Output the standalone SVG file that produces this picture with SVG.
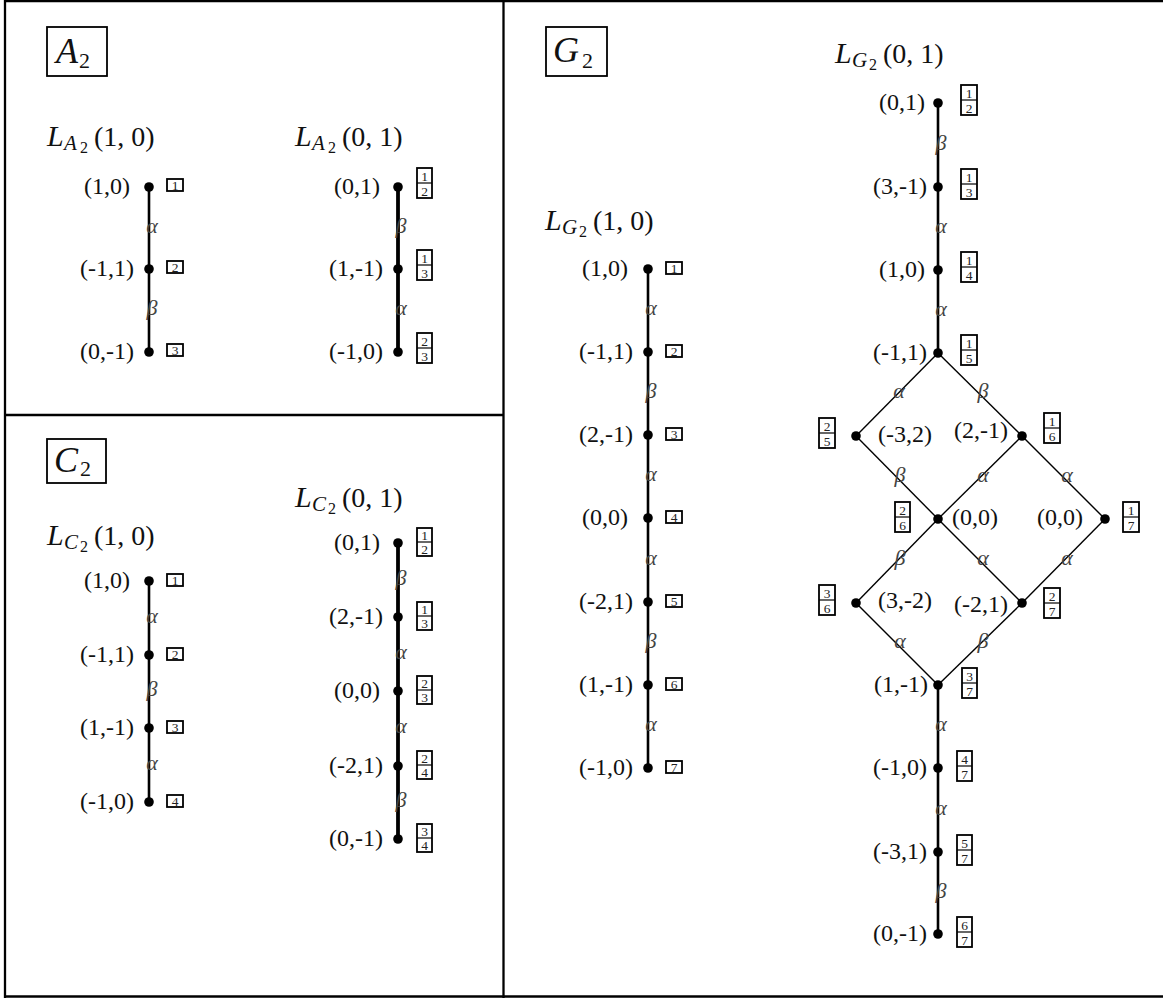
<svg xmlns="http://www.w3.org/2000/svg" width="1163" height="998" viewBox="0 0 1163 998">
<style>
text{font-family:"Liberation Serif","Times New Roman",serif;fill:#111}
.fr{stroke:#000;stroke-width:2.3;fill:none}
.tb{stroke:#000;stroke-width:1.8;fill:none}
.ln{stroke:#000;stroke-width:2.6}
.lb{stroke:#000;stroke-width:3.8}
.lt{stroke:#000;stroke-width:1.4}
.big{font-size:28px}
.it{font-style:italic}
.bl{font-size:30px;font-style:italic}
.s1{font-size:21px;font-style:italic}
.s2{font-size:16px}
.lbl{font-size:24px;text-anchor:middle}
.ls{font-size:24px;text-anchor:start}
.le{font-size:24px;text-anchor:end}
.el{font-size:22px;font-style:italic;fill:#444;text-anchor:middle}
.bx{fill:#fff;stroke:#000;stroke-width:1.8}
.bm{stroke:#000;stroke-width:1.2}
.bd{font-size:13.5px;text-anchor:middle;fill:#222}
</style>
<defs>
<circle id="dot" r="4.8" fill="#000"/>
</defs>
<g id="frame">
<line class="fr" x1="5" y1="0" x2="5" y2="998"/>
<line class="fr" x1="4" y1="1" x2="1163" y2="1"/>
<line class="fr" x1="4" y1="996.5" x2="1163" y2="996.5"/>
<line class="fr" x1="503.5" y1="0" x2="503.5" y2="998"/>
<line class="fr" x1="5" y1="415" x2="503.5" y2="415"/>
</g>
<g id="titles">
<g id="title-A2"><rect class="tb" x="47" y="27" width="60" height="49"/><text x="56" y="63" font-size="36" class="it">A</text><text x="79" y="68" font-size="22">2</text></g>
<g id="title-C2"><rect class="tb" x="47" y="439" width="59" height="44"/><text x="54" y="472" font-size="36" class="it">C</text><text x="80" y="476" font-size="22">2</text></g>
<g id="title-G2"><rect class="tb" x="546" y="27" width="61" height="49"/><text x="553" y="62" font-size="36" class="it">G</text><text x="582" y="68" font-size="22">2</text></g>
<g id="L-A2-10"><text class="big"><tspan class="bl" x="47" y="146">L</tspan><tspan class="s1" x="64" y="150">A</tspan><tspan class="s2" x="80" y="153">2</tspan><tspan x="94" y="146">(1, 0)</tspan></text></g>
<g id="L-A2-01"><text class="big"><tspan class="bl" x="295" y="146">L</tspan><tspan class="s1" x="312" y="150">A</tspan><tspan class="s2" x="328" y="153">2</tspan><tspan x="342" y="146">(0, 1)</tspan></text></g>
<g id="L-C2-10"><text class="big"><tspan class="bl" x="47" y="545">L</tspan><tspan class="s1" x="64" y="549">C</tspan><tspan class="s2" x="80" y="552">2</tspan><tspan x="94" y="545">(1, 0)</tspan></text></g>
<g id="L-C2-01"><text class="big"><tspan class="bl" x="295" y="507">L</tspan><tspan class="s1" x="312" y="511">C</tspan><tspan class="s2" x="328" y="514">2</tspan><tspan x="342" y="507">(0, 1)</tspan></text></g>
<g id="L-G2-10"><text class="big"><tspan class="bl" x="545" y="230">L</tspan><tspan class="s1" x="562" y="234">G</tspan><tspan class="s2" x="579" y="237">2</tspan><tspan x="593" y="230">(1, 0)</tspan></text></g>
<g id="L-G2-01"><text class="big"><tspan class="bl" x="835" y="63">L</tspan><tspan class="s1" x="852" y="67">G</tspan><tspan class="s2" x="869" y="70">2</tspan><tspan x="883" y="63">(0, 1)</tspan></text></g>
</g>
<g id="connectors">
<line class="ln" x1="149" y1="187" x2="149" y2="269"/><text class="el" x="152" y="233">α</text>
<line class="ln" x1="149" y1="269" x2="149" y2="352"/><text class="el" x="152" y="315">β</text>
<line class="lb" x1="398" y1="187" x2="398" y2="269"/><text class="el" x="401" y="233">β</text>
<line class="lb" x1="398" y1="269" x2="398" y2="352"/><text class="el" x="401" y="315">α</text>
<line class="ln" x1="149" y1="581" x2="149" y2="655"/><text class="el" x="152" y="623">α</text>
<line class="ln" x1="149" y1="655" x2="149" y2="728"/><text class="el" x="152" y="696">β</text>
<line class="ln" x1="149" y1="728" x2="149" y2="802"/><text class="el" x="152" y="770">α</text>
<line class="lb" x1="398" y1="543" x2="398" y2="617"/><text class="el" x="401" y="585">β</text>
<line class="lb" x1="398" y1="617" x2="398" y2="691"/><text class="el" x="401" y="659">α</text>
<line class="lb" x1="398" y1="691" x2="398" y2="766"/><text class="el" x="401" y="733">α</text>
<line class="lb" x1="398" y1="766" x2="398" y2="839"/><text class="el" x="401" y="807">β</text>
<line class="ln" x1="648" y1="269" x2="648" y2="352"/><text class="el" x="651" y="315">α</text>
<line class="ln" x1="648" y1="352" x2="648" y2="435"/><text class="el" x="651" y="398">β</text>
<line class="ln" x1="648" y1="435" x2="648" y2="518"/><text class="el" x="651" y="481">α</text>
<line class="ln" x1="648" y1="518" x2="648" y2="602"/><text class="el" x="651" y="565">α</text>
<line class="ln" x1="648" y1="602" x2="648" y2="685"/><text class="el" x="651" y="648">β</text>
<line class="ln" x1="648" y1="685" x2="648" y2="768"/><text class="el" x="651" y="731">α</text>
<line class="ln" x1="938" y1="103" x2="938" y2="187"/><text class="el" x="941" y="150">β</text>
<line class="ln" x1="938" y1="187" x2="938" y2="270"/><text class="el" x="941" y="233">α</text>
<line class="ln" x1="938" y1="270" x2="938" y2="353"/><text class="el" x="941" y="316">α</text>
<line class="lt" x1="938" y1="353" x2="856" y2="436"/><text class="el" x="899" y="398">α</text>
<line class="lt" x1="938" y1="353" x2="1022" y2="436"/><text class="el" x="983" y="398">β</text>
<line class="lt" x1="856" y1="436" x2="938" y2="519"/><text class="el" x="900" y="482">β</text>
<line class="lt" x1="1022" y1="436" x2="938" y2="519"/><text class="el" x="983" y="482">α</text>
<line class="lt" x1="1022" y1="436" x2="1105" y2="519"/><text class="el" x="1067" y="482">α</text>
<line class="lt" x1="938" y1="519" x2="856" y2="603"/><text class="el" x="900" y="565">β</text>
<line class="lt" x1="938" y1="519" x2="1022" y2="603"/><text class="el" x="983" y="565">α</text>
<line class="lt" x1="1105" y1="519" x2="1022" y2="603"/><text class="el" x="1067" y="565">α</text>
<line class="lt" x1="856" y1="603" x2="938" y2="685"/><text class="el" x="900" y="648">α</text>
<line class="lt" x1="1022" y1="603" x2="938" y2="685"/><text class="el" x="983" y="648">β</text>
<line class="ln" x1="938" y1="685" x2="938" y2="768"/><text class="el" x="941" y="731">α</text>
<line class="ln" x1="938" y1="768" x2="938" y2="852"/><text class="el" x="941" y="815">α</text>
<line class="ln" x1="938" y1="852" x2="938" y2="934"/><text class="el" x="941" y="898">β</text>
</g>
<g id="nodes">
<g id="a2l-1"><use href="#dot" x="149" y="187"/><text class="lbl" x="107" y="193.5">(1,0)</text><rect class="bx" x="167" y="179" width="16" height="12"/><text class="bd" x="175" y="189.5">1</text></g>
<g id="a2l-2"><use href="#dot" x="149" y="269"/><text class="lbl" x="107" y="275.5">(-1,1)</text><rect class="bx" x="167" y="261" width="16" height="12"/><text class="bd" x="175" y="271.5">2</text></g>
<g id="a2l-3"><use href="#dot" x="149" y="352"/><text class="lbl" x="107" y="358.5">(0,-1)</text><rect class="bx" x="167" y="344" width="16" height="12"/><text class="bd" x="175" y="354.5">3</text></g>
<g id="a2r-1"><use href="#dot" x="398" y="187"/><text class="lbl" x="357" y="193.5">(0,1)</text><rect class="bx" x="417" y="168" width="15" height="30"/><line class="bm" x1="417" y1="183" x2="432" y2="183"/><text class="bd" x="424.5" y="180.5">1</text><text class="bd" x="424.5" y="195.5">2</text></g>
<g id="a2r-2"><use href="#dot" x="398" y="269"/><text class="lbl" x="356" y="275.5">(1,-1)</text><rect class="bx" x="417" y="250" width="15" height="30"/><line class="bm" x1="417" y1="265" x2="432" y2="265"/><text class="bd" x="424.5" y="262.5">1</text><text class="bd" x="424.5" y="277.5">3</text></g>
<g id="a2r-3"><use href="#dot" x="398" y="352"/><text class="lbl" x="356" y="358.5">(-1,0)</text><rect class="bx" x="417" y="333" width="15" height="30"/><line class="bm" x1="417" y1="348" x2="432" y2="348"/><text class="bd" x="424.5" y="345.5">2</text><text class="bd" x="424.5" y="360.5">3</text></g>
<g id="c2l-1"><use href="#dot" x="149" y="581"/><text class="lbl" x="107" y="587.5">(1,0)</text><rect class="bx" x="167" y="574" width="16" height="12"/><text class="bd" x="175" y="584.5">1</text></g>
<g id="c2l-2"><use href="#dot" x="149" y="655"/><text class="lbl" x="107" y="661.5">(-1,1)</text><rect class="bx" x="167" y="648" width="16" height="12"/><text class="bd" x="175" y="658.5">2</text></g>
<g id="c2l-3"><use href="#dot" x="149" y="728"/><text class="lbl" x="107" y="734.5">(1,-1)</text><rect class="bx" x="167" y="721" width="16" height="12"/><text class="bd" x="175" y="731.5">3</text></g>
<g id="c2l-4"><use href="#dot" x="149" y="802"/><text class="lbl" x="107" y="808.5">(-1,0)</text><rect class="bx" x="167" y="795" width="16" height="12"/><text class="bd" x="175" y="805.5">4</text></g>
<g id="c2r-1"><use href="#dot" x="398" y="543"/><text class="lbl" x="357" y="549.5">(0,1)</text><rect class="bx" x="417" y="528" width="15" height="28"/><line class="bm" x1="417" y1="542" x2="432" y2="542"/><text class="bd" x="424.5" y="539.5">1</text><text class="bd" x="424.5" y="553.5">2</text></g>
<g id="c2r-2"><use href="#dot" x="398" y="617"/><text class="lbl" x="356" y="623.5">(2,-1)</text><rect class="bx" x="417" y="602" width="15" height="28"/><line class="bm" x1="417" y1="616" x2="432" y2="616"/><text class="bd" x="424.5" y="613.5">1</text><text class="bd" x="424.5" y="627.5">3</text></g>
<g id="c2r-3"><use href="#dot" x="398" y="691"/><text class="lbl" x="357" y="697.5">(0,0)</text><rect class="bx" x="417" y="676" width="15" height="28"/><line class="bm" x1="417" y1="690" x2="432" y2="690"/><text class="bd" x="424.5" y="687.5">2</text><text class="bd" x="424.5" y="701.5">3</text></g>
<g id="c2r-4"><use href="#dot" x="398" y="766"/><text class="lbl" x="356" y="772.5">(-2,1)</text><rect class="bx" x="417" y="751" width="15" height="28"/><line class="bm" x1="417" y1="765" x2="432" y2="765"/><text class="bd" x="424.5" y="762.5">2</text><text class="bd" x="424.5" y="776.5">4</text></g>
<g id="c2r-5"><use href="#dot" x="398" y="839"/><text class="lbl" x="356" y="845.5">(0,-1)</text><rect class="bx" x="417" y="824" width="15" height="28"/><line class="bm" x1="417" y1="838" x2="432" y2="838"/><text class="bd" x="424.5" y="835.5">3</text><text class="bd" x="424.5" y="849.5">4</text></g>
<g id="g2l-1"><use href="#dot" x="648" y="269"/><text class="lbl" x="605" y="275.5">(1,0)</text><rect class="bx" x="666" y="262" width="16" height="12"/><text class="bd" x="674" y="272.5">1</text></g>
<g id="g2l-2"><use href="#dot" x="648" y="352"/><text class="lbl" x="606" y="358.5">(-1,1)</text><rect class="bx" x="666" y="345" width="16" height="12"/><text class="bd" x="674" y="355.5">2</text></g>
<g id="g2l-3"><use href="#dot" x="648" y="435"/><text class="lbl" x="606" y="441.5">(2,-1)</text><rect class="bx" x="666" y="428" width="16" height="12"/><text class="bd" x="674" y="438.5">3</text></g>
<g id="g2l-4"><use href="#dot" x="648" y="518"/><text class="lbl" x="605" y="524.5">(0,0)</text><rect class="bx" x="666" y="511" width="16" height="12"/><text class="bd" x="674" y="521.5">4</text></g>
<g id="g2l-5"><use href="#dot" x="648" y="602"/><text class="lbl" x="606" y="608.5">(-2,1)</text><rect class="bx" x="666" y="595" width="16" height="12"/><text class="bd" x="674" y="605.5">5</text></g>
<g id="g2l-6"><use href="#dot" x="648" y="685"/><text class="lbl" x="606" y="691.5">(1,-1)</text><rect class="bx" x="666" y="678" width="16" height="12"/><text class="bd" x="674" y="688.5">6</text></g>
<g id="g2l-7"><use href="#dot" x="648" y="768"/><text class="lbl" x="606" y="774.5">(-1,0)</text><rect class="bx" x="666" y="761" width="16" height="12"/><text class="bd" x="674" y="771.5">7</text></g>
<g id="g2r-1"><use href="#dot" x="938" y="103"/><text class="lbl" x="902" y="109.5">(0,1)</text><rect class="bx" x="961" y="85" width="16" height="30"/><line class="bm" x1="961" y1="100" x2="977" y2="100"/><text class="bd" x="969" y="97.5">1</text><text class="bd" x="969" y="112.5">2</text></g>
<g id="g2r-2"><use href="#dot" x="938" y="187"/><text class="lbl" x="900" y="193.5">(3,-1)</text><rect class="bx" x="961" y="169" width="16" height="30"/><line class="bm" x1="961" y1="184" x2="977" y2="184"/><text class="bd" x="969" y="181.5">1</text><text class="bd" x="969" y="196.5">3</text></g>
<g id="g2r-3"><use href="#dot" x="938" y="270"/><text class="lbl" x="902" y="276.5">(1,0)</text><rect class="bx" x="961" y="252" width="16" height="30"/><line class="bm" x1="961" y1="267" x2="977" y2="267"/><text class="bd" x="969" y="264.5">1</text><text class="bd" x="969" y="279.5">4</text></g>
<g id="g2r-4"><use href="#dot" x="938" y="353"/><text class="lbl" x="900" y="359.5">(-1,1)</text><rect class="bx" x="961" y="335" width="16" height="30"/><line class="bm" x1="961" y1="350" x2="977" y2="350"/><text class="bd" x="969" y="347.5">1</text><text class="bd" x="969" y="362.5">5</text></g>
<g id="g2d-1"><use href="#dot" x="856" y="436"/><text class="ls" x="878" y="442">(-3,2)</text><rect class="bx" x="819" y="418" width="16" height="30"/><line class="bm" x1="819" y1="433" x2="835" y2="433"/><text class="bd" x="827" y="430.5">2</text><text class="bd" x="827" y="445.5">5</text></g>
<g id="g2d-2"><use href="#dot" x="1022" y="436"/><text class="le" x="1008" y="438">(2,-1)</text><rect class="bx" x="1044" y="413" width="16" height="30"/><line class="bm" x1="1044" y1="428" x2="1060" y2="428"/><text class="bd" x="1052" y="425.5">1</text><text class="bd" x="1052" y="440.5">6</text></g>
<g id="g2d-3"><use href="#dot" x="938" y="519"/><text class="ls" x="952" y="525">(0,0)</text><rect class="bx" x="895" y="502" width="15" height="30"/><line class="bm" x1="895" y1="517" x2="910" y2="517"/><text class="bd" x="902.5" y="514.5">2</text><text class="bd" x="902.5" y="529.5">6</text></g>
<g id="g2d-4"><use href="#dot" x="1105" y="519"/><text class="le" x="1083" y="525">(0,0)</text><rect class="bx" x="1123" y="502" width="16" height="30"/><line class="bm" x1="1123" y1="517" x2="1139" y2="517"/><text class="bd" x="1131" y="514.5">1</text><text class="bd" x="1131" y="529.5">7</text></g>
<g id="g2d-5"><use href="#dot" x="856" y="603"/><text class="ls" x="878" y="608">(3,-2)</text><rect class="bx" x="819" y="585" width="16" height="30"/><line class="bm" x1="819" y1="600" x2="835" y2="600"/><text class="bd" x="827" y="597.5">3</text><text class="bd" x="827" y="612.5">6</text></g>
<g id="g2d-6"><use href="#dot" x="1022" y="603"/><text class="le" x="1008" y="612">(-2,1)</text><rect class="bx" x="1044" y="588" width="16" height="30"/><line class="bm" x1="1044" y1="603" x2="1060" y2="603"/><text class="bd" x="1052" y="600.5">2</text><text class="bd" x="1052" y="615.5">7</text></g>
<g id="g2d-7"><use href="#dot" x="938" y="685"/><text class="le" x="928" y="692">(1,-1)</text><rect class="bx" x="962" y="668" width="15" height="30"/><line class="bm" x1="962" y1="683" x2="977" y2="683"/><text class="bd" x="969.5" y="680.5">3</text><text class="bd" x="969.5" y="695.5">7</text></g>
<g id="g2b-1"><use href="#dot" x="938" y="768"/><text class="lbl" x="900" y="774.5">(-1,0)</text><rect class="bx" x="957" y="751" width="15" height="30"/><line class="bm" x1="957" y1="766" x2="972" y2="766"/><text class="bd" x="964.5" y="763.5">4</text><text class="bd" x="964.5" y="778.5">7</text></g>
<g id="g2b-2"><use href="#dot" x="938" y="852"/><text class="lbl" x="900" y="858.5">(-3,1)</text><rect class="bx" x="957" y="835" width="15" height="30"/><line class="bm" x1="957" y1="850" x2="972" y2="850"/><text class="bd" x="964.5" y="847.5">5</text><text class="bd" x="964.5" y="862.5">7</text></g>
<g id="g2b-3"><use href="#dot" x="938" y="934"/><text class="lbl" x="900" y="940.5">(0,-1)</text><rect class="bx" x="957" y="917" width="15" height="30"/><line class="bm" x1="957" y1="932" x2="972" y2="932"/><text class="bd" x="964.5" y="929.5">6</text><text class="bd" x="964.5" y="944.5">7</text></g>
</g>
</svg>
